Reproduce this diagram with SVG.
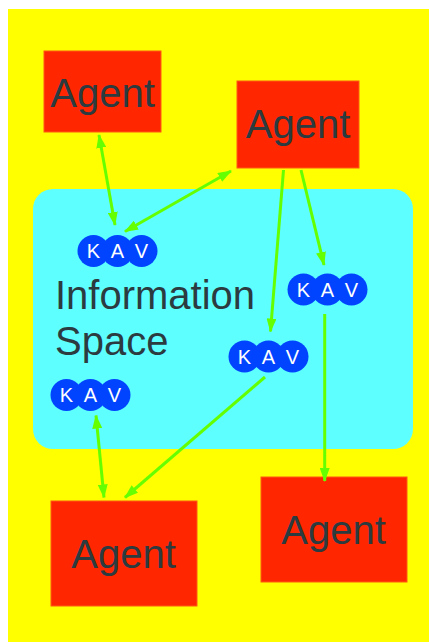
<svg xmlns="http://www.w3.org/2000/svg" width="429" height="642" viewBox="0 0 429 642">
<style>
.agent rect{fill:#ff2600;stroke:#ff5a10;stroke-width:1}
.lbl{font-family:"Liberation Sans",Arial,sans-serif;font-size:40px;fill:#2b3b3f}
.kav circle{fill:#0044ff}
.kav text{font-family:"Liberation Sans",Arial,sans-serif;font-size:20px;fill:#ffffff;text-anchor:middle}
.conn line{stroke:#66ff00;stroke-width:3}
</style>
<defs>
<marker id="ah" markerUnits="userSpaceOnUse" markerWidth="14" markerHeight="10" refX="13" refY="5" orient="auto-start-reverse">
<path d="M0,0 L14,5 L0,10 z" fill="#66ff00"/>
</marker>
</defs>
<rect x="8" y="9" width="421" height="633" fill="#ffff00"/>
<g id="infospace">
<rect x="33" y="189" width="380" height="260" rx="20" fill="#5effff"/>
<text class="lbl" x="55" y="309">Information</text>
<text class="lbl" x="55" y="355">Space</text>
</g>
<g id="agent1" class="agent">
<rect x="44" y="51" width="117" height="81"/>
<text class="lbl" x="102.5" y="107" text-anchor="middle">Agent</text>
</g>
<g id="agent2" class="agent">
<rect x="237" y="81" width="122" height="87"/>
<text class="lbl" x="298" y="138" text-anchor="middle">Agent</text>
</g>
<g id="agent3" class="agent">
<rect x="51" y="501" width="146" height="105"/>
<text class="lbl" x="123.5" y="568" text-anchor="middle">Agent</text>
</g>
<g id="agent4" class="agent">
<rect x="261" y="477" width="146" height="105"/>
<text class="lbl" x="333.5" y="544" text-anchor="middle">Agent</text>
</g>
<g id="kav1" class="kav">
<circle cx="93.5" cy="251" r="16"/><circle cx="117.5" cy="251" r="16"/><circle cx="141.5" cy="251" r="16"/>
<text x="93.5" y="258">K</text><text x="117.5" y="258">A</text><text x="141.5" y="258">V</text>
</g>
<g id="kav2" class="kav">
<circle cx="303.5" cy="289.5" r="16"/><circle cx="327.5" cy="289.5" r="16"/><circle cx="351.5" cy="289.5" r="16"/>
<text x="303.5" y="296.5">K</text><text x="327.5" y="296.5">A</text><text x="351.5" y="296.5">V</text>
</g>
<g id="kav3" class="kav">
<circle cx="244.5" cy="356.5" r="16"/><circle cx="268.5" cy="356.5" r="16"/><circle cx="292.5" cy="356.5" r="16"/>
<text x="244.5" y="363.5">K</text><text x="268.5" y="363.5">A</text><text x="292.5" y="363.5">V</text>
</g>
<g id="kav4" class="kav">
<circle cx="66.5" cy="395" r="16"/><circle cx="90.5" cy="395" r="16"/><circle cx="114.5" cy="395" r="16"/>
<text x="66.5" y="402">K</text><text x="90.5" y="402">A</text><text x="114.5" y="402">V</text>
</g>
<g id="connectors" class="conn">
<line x1="99" y1="135" x2="115" y2="225" marker-start="url(#ah)" marker-end="url(#ah)"/>
<line x1="231" y1="171" x2="125" y2="231.5" marker-start="url(#ah)" marker-end="url(#ah)"/>
<line x1="283.5" y1="170" x2="270.5" y2="331.5" marker-end="url(#ah)"/>
<line x1="301" y1="170" x2="324" y2="265" marker-end="url(#ah)"/>
<line x1="324.7" y1="314" x2="324.7" y2="481" marker-end="url(#ah)"/>
<line x1="265" y1="377" x2="125" y2="497.5" marker-end="url(#ah)"/>
<line x1="96" y1="415.5" x2="104" y2="497.5" marker-start="url(#ah)" marker-end="url(#ah)"/>
</g>
</svg>
